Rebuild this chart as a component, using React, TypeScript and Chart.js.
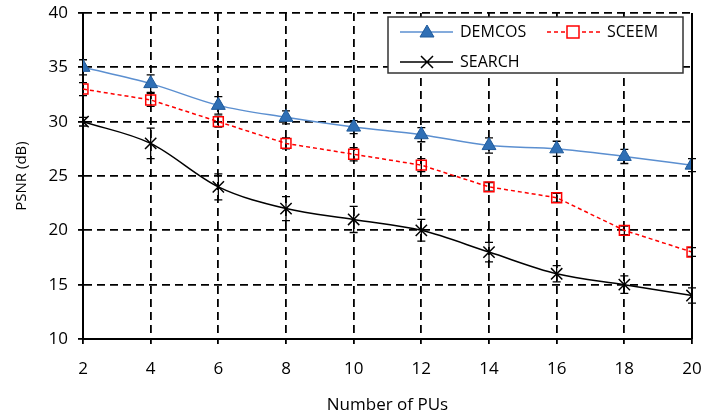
import React, { useEffect, useRef } from "react";
import { Chart, registerables } from "chart.js";

Chart.register(...registerables);

const xValues = [2, 4, 6, 8, 10, 12, 14, 16, 18, 20];
const demcos = [35, 33.5, 31.5, 30.4, 29.5, 28.8, 27.8, 27.5, 26.8, 26];
const demcosErr = [0.7, 0.8, 0.8, 0.6, 0.6, 0.65, 0.7, 0.7, 0.65, 0.6];
const sceem = [33, 32, 30, 28, 27, 26, 24, 23, 20, 18];
const sceemErr = [0.6, 0.6, 0.5, 0.5, 0.6, 0.6, 0.4, 0.4, 0.4, 0.4];
const search = [30, 28, 24, 22, 21, 20, 18, 16, 15, 14];
const searchErr = [0.4, 1.4, 1.2, 1.1, 1.2, 1.0, 0.9, 0.75, 0.8, 0.7];
const yTicks = [10, 15, 20, 25, 30, 35, 40];
const xTicks = [2, 4, 6, 8, 10, 12, 14, 16, 18, 20];

const FONT = "'Open Sans', 'DejaVu Sans', sans-serif";
const BLUE_LINE = "#5B8FD0";
const BLUE_FILL = "#2F6FB5";
const RED = "#FF0000";

const errors = [demcosErr, sceemErr, searchErr];

const errorBarPlugin = {
  id: "errorBars",
  beforeDatasetsDraw(chart: any) {
    const ctx = chart.ctx;
    const xs = chart.scales.x;
    const ys = chart.scales.y;
    ctx.save();
    ctx.strokeStyle = "#000";
    ctx.lineWidth = 1.3;
    chart.data.datasets.forEach((ds: any, di: number) => {
      const errs = errors[di];
      ds.data.forEach((p: any, i: number) => {
        const e = errs[i];
        const px = xs.getPixelForValue(p.x);
        const top = ys.getPixelForValue(p.y + e);
        const bot = ys.getPixelForValue(p.y - e);
        ctx.beginPath();
        ctx.moveTo(px, top);
        ctx.lineTo(px, bot);
        ctx.moveTo(px - 4, top);
        ctx.lineTo(px + 4, top);
        ctx.moveTo(px - 4, bot);
        ctx.lineTo(px + 4, bot);
        ctx.stroke();
      });
    });
    ctx.restore();
  },
};

const framePlugin = {
  id: "frameAndLegend",
  afterDraw(chart: any) {
    const ctx = chart.ctx;
    const a = chart.chartArea;
    ctx.save();
    ctx.strokeStyle = "#000";
    ctx.lineWidth = 2;
    ctx.beginPath();
    ctx.moveTo(a.right, a.top);
    ctx.lineTo(a.right, a.bottom);
    ctx.stroke();

    const lx = a.right - 304;
    const ly = a.top + 4;
    const lw = 295;
    const lh = 56;
    ctx.fillStyle = "#fff";
    ctx.fillRect(lx, ly, lw, lh);
    ctx.strokeStyle = "#333";
    ctx.lineWidth = 1.5;
    ctx.strokeRect(lx, ly, lw, lh);

    ctx.font = "16px " + FONT;
    ctx.textBaseline = "middle";
    ctx.textAlign = "left";

    const row1 = ly + 15;
    const row2 = ly + 45;
    let sx = lx + 12;
    ctx.strokeStyle = BLUE_LINE;
    ctx.lineWidth = 1.5;
    ctx.setLineDash([]);
    ctx.beginPath();
    ctx.moveTo(sx, row1);
    ctx.lineTo(sx + 53, row1);
    ctx.stroke();
    ctx.fillStyle = BLUE_FILL;
    ctx.strokeStyle = "#1F5A9A";
    ctx.lineWidth = 1;
    ctx.beginPath();
    ctx.moveTo(sx + 27, row1 - 7);
    ctx.lineTo(sx + 34, row1 + 5);
    ctx.lineTo(sx + 20, row1 + 5);
    ctx.closePath();
    ctx.fill();
    ctx.stroke();
    ctx.fillStyle = "#000";
    ctx.fillText("DEMCOS", sx + 60, row1);

    sx = lx + 159;
    ctx.strokeStyle = RED;
    ctx.lineWidth = 1.5;
    ctx.setLineDash([4, 3]);
    ctx.beginPath();
    ctx.moveTo(sx, row1);
    ctx.lineTo(sx + 54, row1);
    ctx.stroke();
    ctx.setLineDash([]);
    ctx.fillStyle = "#fff";
    ctx.fillRect(sx + 20, row1 - 6, 12, 12);
    ctx.strokeRect(sx + 20, row1 - 6, 12, 12);
    ctx.fillStyle = "#000";
    ctx.fillText("SCEEM", sx + 60, row1);

    sx = lx + 12;
    ctx.strokeStyle = "#000";
    ctx.lineWidth = 1.5;
    ctx.beginPath();
    ctx.moveTo(sx, row2);
    ctx.lineTo(sx + 53, row2);
    ctx.moveTo(sx + 21, row2 - 6);
    ctx.lineTo(sx + 33, row2 + 6);
    ctx.moveTo(sx + 33, row2 - 6);
    ctx.lineTo(sx + 21, row2 + 6);
    ctx.stroke();
    ctx.fillText("SEARCH", sx + 60, row2);
    ctx.restore();
  },
};

const toPts = (arr: number[]) => arr.map((y, i) => ({ x: xValues[i], y }));

export default function App() {
  const ref = useRef<HTMLCanvasElement>(null);
  useEffect(() => {
    document.body.style.margin = "0";
    const chart = new Chart(ref.current as HTMLCanvasElement, {
      type: "line",
      data: {
        datasets: [
          {
            label: "DEMCOS",
            data: toPts(demcos),
            borderColor: BLUE_LINE,
            borderWidth: 1.5,
            backgroundColor: BLUE_FILL,
            pointStyle: "triangle",
            pointRadius: 8,
            pointBackgroundColor: BLUE_FILL,
            pointBorderColor: "#1F5A9A",
            pointBorderWidth: 1,
            tension: 0.3,
            cubicInterpolationMode: "monotone",
          },
          {
            label: "SCEEM",
            data: toPts(sceem),
            borderColor: RED,
            borderWidth: 1.5,
            borderDash: [4, 3],
            pointStyle: "rect",
            pointRadius: 7,
            pointBackgroundColor: "rgba(255,255,255,0)",
            pointBorderColor: RED,
            pointBorderWidth: 1.5,
            tension: 0,
          },
          {
            label: "SEARCH",
            data: toPts(search),
            borderColor: "#000",
            borderWidth: 1.5,
            pointStyle: "crossRot",
            pointRadius: 8,
            pointBorderColor: "#000",
            pointBorderWidth: 1.5,
            tension: 0.3,
            cubicInterpolationMode: "monotone",
          },
        ],
      },
      options: {
        animation: false,
        responsive: false,
        maintainAspectRatio: false,
        layout: { padding: { left: 13, right: 12, top: 13, bottom: 2 } },
        plugins: {
          legend: { display: false },
          tooltip: { enabled: false },
        },
        scales: {
          x: {
            type: "linear",
            min: 2,
            max: 20,
            afterBuildTicks: (s: any) => {
              s.ticks = xTicks.map((v) => ({ value: v }));
            },
            afterFit: (s: any) => {
              s.height = 76;
              s.paddingLeft = 0;
              s.paddingRight = 0;
            },
            ticks: {
              color: "#000",
              font: { size: 17, family: FONT },
              padding: 15,
            },
            grid: {
              color: "#000",
              lineWidth: 1.8,
              tickLength: 5,
              tickBorderDash: [],
              tickColor: "#000",
            },
            border: { display: true, color: "#000", width: 2, dash: [8, 5] },
            title: {
              display: true,
              text: "Number of PUs",
              color: "#000",
              font: { size: 17, family: FONT },
              padding: { top: 0, bottom: 0 },
            },
          },
          y: {
            min: 10,
            max: 40,
            afterBuildTicks: (s: any) => {
              s.ticks = yTicks.map((v) => ({ value: v }));
            },
            afterFit: (s: any) => {
              s.width = 70;
              s.paddingTop = 0;
              s.paddingBottom = 0;
            },
            ticks: {
              color: "#000",
              font: { size: 17, family: FONT },
              padding: 10,
            },
            grid: {
              color: "#000",
              lineWidth: 1.8,
              tickLength: 5,
              tickBorderDash: [],
              tickColor: "#000",
            },
            border: { display: true, color: "#000", width: 2, dash: [8, 5] },
            title: {
              display: true,
              text: "PSNR (dB)",
              color: "#000",
              font: { size: 15, family: FONT },
              padding: { top: 0, bottom: 0 },
            },
          },
        },
      } as any,
      plugins: [errorBarPlugin, framePlugin],
    });
    return () => chart.destroy();
  }, []);
  return (
    <div style={{ position: "absolute", left: 0, top: 0, width: 704, height: 417 }}>
      <canvas ref={ref} width={704} height={417} style={{ width: 704, height: 417 }} />
    </div>
  );
}
